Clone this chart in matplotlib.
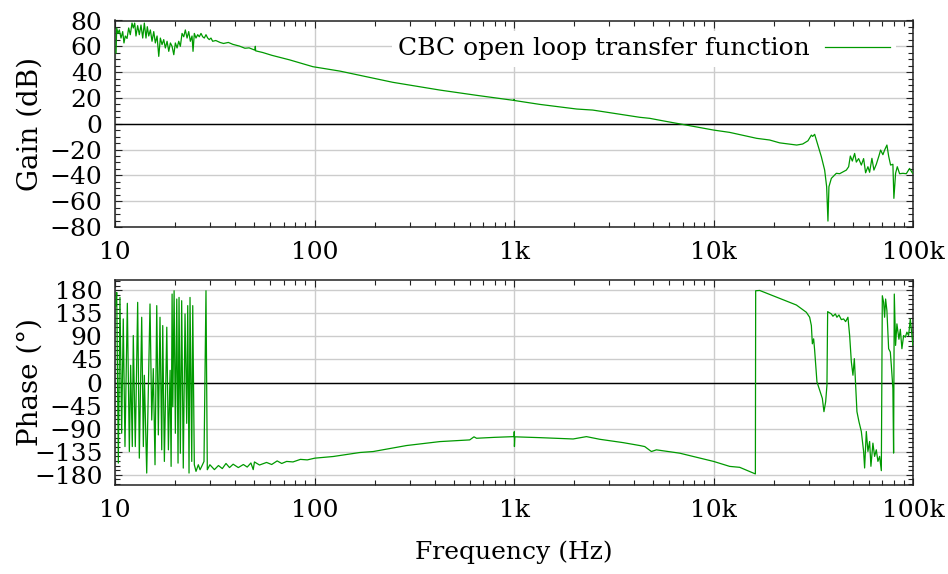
import matplotlib
matplotlib.use("Agg")
import matplotlib.pyplot as plt
from matplotlib.ticker import FixedLocator, NullFormatter, MultipleLocator

plt.rcParams['font.family'] = ['DejaVu Serif']
plt.rcParams['mathtext.fontset'] = 'dejavuserif'

# ---------------- data ----------------
gain_freq = [10.12, 10.2, 10.35, 10.51, 10.72, 10.93, 11.09, 11.26, 11.49, 11.71, 11.93, 12.17,
             12.35, 12.55, 12.74, 12.99, 13.24, 13.5, 13.77, 14.03, 14.3, 14.52, 14.76, 15.04,
             15.33, 15.64, 15.93, 16.25, 16.57, 16.88, 17.21, 17.55, 17.88, 18.24, 18.6, 18.95,
             19.32, 19.71, 20.07, 20.47, 20.87, 21.26, 21.68, 22.11, 22.52, 22.97, 23.42, 23.86,
             24.33, 24.61, 24.98, 25.47, 25.97, 26.46, 26.98, 27.51, 28.03, 28.58, 29.15, 29.69,
             30.27, 30.87, 32.0, 33.6, 35.0, 37.0, 39.0, 42.0, 44.8, 47.0, 50.3, 50.5, 50.7,
             55.0, 61.2, 75.0, 98.2, 134, 168.8, 247, 425, 651, 998, 1002, 1006, 1347, 2063,
             2482, 4269, 4790, 5566, 10020, 12060, 16460, 19120, 21460, 26120, 27990, 29750,
             30940, 31410, 32140, 32780, 34730, 36070, 36910, 37470, 37900, 38970, 41280, 42880,
             46330, 47580, 48520, 49650, 50980, 51990, 53400, 55080, 56550, 57870, 59430, 60610,
             62240, 63690, 65470, 67460, 68810, 70660, 72060, 74000, 75480, 77200, 79290, 80200,
             81790, 83410, 85660, 89010, 92560, 96160, 99540]
gain_db = [54.8, 74.2, 70, 72.7, 66.4, 71.4, 62.6, 68, 66.1, 74.2, 69, 78,
           74.2, 78, 68, 76, 69, 76.5, 66.4, 78, 66.4, 75.2, 68, 72.7,
           63.9, 71.4, 62.6, 68, 52.2, 66.4, 61.3, 65.2, 58.7, 63.9, 56.1, 62.6,
           60, 53.5, 62.6, 58.7, 63.9, 60, 70, 67.4, 72.7, 66.4, 71.4, 63.9,
           68, 56.1, 70, 66.4, 69, 67.4, 70, 67.4, 66.4, 69, 66.4, 65.2,
           66.4, 63.9, 64.5, 63.0, 62.2, 63.0, 61.5, 60.2, 58.5, 58.8, 57.0, 60.0, 56.5,
           55.2, 53.0, 49.5, 44.2, 40.8, 37.5, 32.1, 26.1, 22.0, 18.1, 19.0, 18.0, 15.0, 11.4,
           10.6, 5.0, 4.2, 2.3, -4.9, -6.7, -11.3, -12.6, -14.8, -16.5, -15.7, -13.2,
           -8.8, -9.8, -8.2, -12.6, -25.6, -35.9, -48.8, -75.4, -48.8, -42.3, -38.4, -38.7,
           -35.9, -33.3, -25, -28.9, -23, -29.7, -27, -32, -27, -38, -33.3, -37.6,
           -26.8, -35.9, -31.4, -25, -20.4, -24, -20.4, -16.5, -25, -32, -31.4, -57.8,
           -38.4, -33.3, -38.7, -38.4, -38.7, -34.6, -38.4]

phase_freq = [10.12, 10.2, 10.39, 10.59, 10.8, 11.0, 11.22, 11.53, 11.8, 11.98, 12.21, 12.35,
              12.64, 12.99, 13.24, 13.61, 13.87, 14.03, 14.42, 14.98, 15.28, 15.56, 15.87, 16.19,
              16.49, 16.81, 17.15, 17.35, 17.68, 18.18, 18.52, 18.89, 19.11, 19.33, 19.49, 19.78,
              20.07, 20.4, 20.7, 20.94, 21.26, 21.59, 21.99, 22.44, 22.88, 23.15, 23.5, 23.77,
              24.25, 24.53, 24.98, 25.47, 26.16, 26.68, 27.2, 27.93, 28.58, 29.02, 29.9,
              31.5, 33.0, 34.5, 36.0, 37.5, 39.1, 41.5, 44.0, 46.0, 48.0, 49.3, 50.0, 53.0,
              57.5, 61.0, 65.0, 68.5, 72.5, 78.0, 85.0, 92.0, 100.5, 124.1,
              134, 168.8, 196.9, 289.3, 425, 600, 630, 649, 800, 1001, 1003, 1005, 1010, 1347,
              1978, 2307, 2691, 3521, 4269, 4521, 4884, 5174, 6771, 10010, 12060, 13530, 16215,
              16270, 17040, 26030, 29200, 30340, 30940, 31300, 31770, 32140, 33000, 34050, 35120,
              35780, 36490, 37040, 37340, 38970, 39690, 40810, 41560, 42530, 43730, 44900, 45950,
              47190, 48130, 49090, 50000, 50810, 51580, 52360, 53580, 55080, 56550, 57210, 58340,
              59430, 60610, 61530, 62960, 64200, 65470, 66690, 68030, 69380, 70180, 71240, 72060,
              72900, 74000, 75480, 76970, 77860, 79290, 79930, 80580, 81790, 83050, 85000, 86380,
              87990, 89730, 91500, 93200, 95060, 96940, 98400, 99890]
phase_deg = [150, 175.8, -157.3, 166, -99.1, 124.1, -125, 154.5, -134.7, 33.6, -125, 91.7,
             -125, 156.4, -147.6, 127.3, -125, 14.1, -176.7, 153.2, -73.2, 27.1, -160.5, 150,
             -102.3, 127.3, -131.4, 111.1, -154, 107.9, -131.4, 23.8, -163.7, 172.6, -47.4, 179,
             -99.1, 162.9, -157.3, 166, -138, 159.6, -167, 133.8, -79.7, 150, -176.7, 166,
             -154, 150, -160.5, -173.4, -160.5, -170.2, -163.7, -154, 179, -170.2, -160.5,
             -170, -162, -168, -158, -166, -159.4, -166, -160, -165, -157, -170, -155, -161,
             -156, -160, -153, -158, -154, -155, -150, -151, -147.6, -144.4,
             -142.4, -136.6, -134.7, -123, -115.3, -112, -106, -108.8, -107, -105.6, -96, -125, -106, -107.6,
             -110.2, -105.6, -110.8, -117.3, -123, -125, -134.7, -131.4, -137.9, -154, -163.7, -165.5, -178.4,
             179, 179.6, 151.2, 137, 127.3, 111.1, 75.5, 85.2, 62.6, 1.3, -14.9, -31,
             -56.9, -37.6, -5.2, 138.3, 133.8, 129.3, 133.8, 127.3, 131.8, 122.7, 124, 118.8,
             127.3, 91.7, 40, 14.2, 46.5, -5.2, -56.9, -76.3, -95.6, -134.5, -166.8, -95.6,
             -134.5, -115.1, -163.5, -118.3, -144.2, -131.3, -153.9, -144.2, -172, 169.3, 156.4, 127.3,
             162.9, 140.3, 65.9, 59.4, 33.6, -11.7, -137.7, 172.6, 72.4, 114.4, 84.4, 103.8,
             65.9, 91.7, 88.4, 98.2, 91.7, 124, 98.2, 72.4]

x_ticks = [10, 100, 1000, 10000, 100000]
x_tick_labels = ['10', '100', '1k', '10k', '100k']
gain_ticks = [-80, -60, -40, -20, 0, 20, 40, 60, 80]
phase_ticks = [-180, -135, -90, -45, 0, 45, 90, 135, 180]
series_label = 'CBC open loop transfer function'

# ---------------- style ----------------
GREEN = '#009900'
GRID = '#cccccc'
FS = 18
FS_YLAB = 20

fig = plt.figure(figsize=(9.48, 5.74), dpi=100)
ax1 = fig.add_axes([115/948, 1-227/574, 798/948, 206.5/574])
ax2 = fig.add_axes([115/948, 1-485/574, 798/948, 205/574])

minor_x = [m * 10**e for e in range(1, 5) for m in range(2, 10)]

for ax in (ax1, ax2):
    ax.set_xscale('log')
    ax.set_xlim(10, 100000)
    ax.xaxis.set_major_locator(FixedLocator(x_ticks))
    ax.set_xticklabels(x_tick_labels)
    ax.xaxis.set_minor_locator(FixedLocator(minor_x))
    ax.xaxis.set_minor_formatter(NullFormatter())
    ax.grid(True, which='major', color=GRID, lw=1.0, zorder=0)
    ax.axhline(0, color='black', lw=1.0, zorder=1)
    ax.tick_params(which='both', direction='in', top=True, right=True, labelsize=FS,
                   width=0.8, color='#222222')
    ax.tick_params(which='major', length=5, pad=9)
    ax.tick_params(which='minor', length=3.5)
    ax.tick_params(axis='x', pad=10)
    for s in ax.spines.values():
        s.set_linewidth(1.1)
        s.set_color('#222222')
    ax.set_axisbelow(True)

ax1.plot(gain_freq, gain_db, color=GREEN, lw=0.9, zorder=3, label=series_label)
ax1.set_ylim(-80, 80)
ax1.set_yticks(gain_ticks)
ax1.yaxis.set_minor_locator(MultipleLocator(5))
ax1.set_ylabel('Gain (dB)', fontsize=FS_YLAB)
ax1.yaxis.set_label_coords(-0.09, 0.5)

ax2.plot(phase_freq, phase_deg, color=GREEN, lw=0.9, zorder=3)
ax2.set_ylim(-200, 200)
ax2.set_yticks(phase_ticks)
ax2.yaxis.set_minor_locator(MultipleLocator(9))
ax2.set_ylabel('Phase (°)', fontsize=FS_YLAB)
ax2.yaxis.set_label_coords(-0.09, 0.5)
ax2.set_xlabel('Frequency (Hz)', fontsize=FS)
ax2.xaxis.set_label_coords(0.5, -0.27)

leg = ax1.legend(loc='upper right', fontsize=FS, markerfirst=False, frameon=True,
                 facecolor='white', edgecolor='none', framealpha=1.0, fancybox=False,
                 handlelength=2.6, handletextpad=0.6, borderaxespad=0.3, borderpad=0.25,
                 bbox_to_anchor=(0.988, 0.985))
leg.set_zorder(5)

fig.savefig('out.png', dpi=100)
